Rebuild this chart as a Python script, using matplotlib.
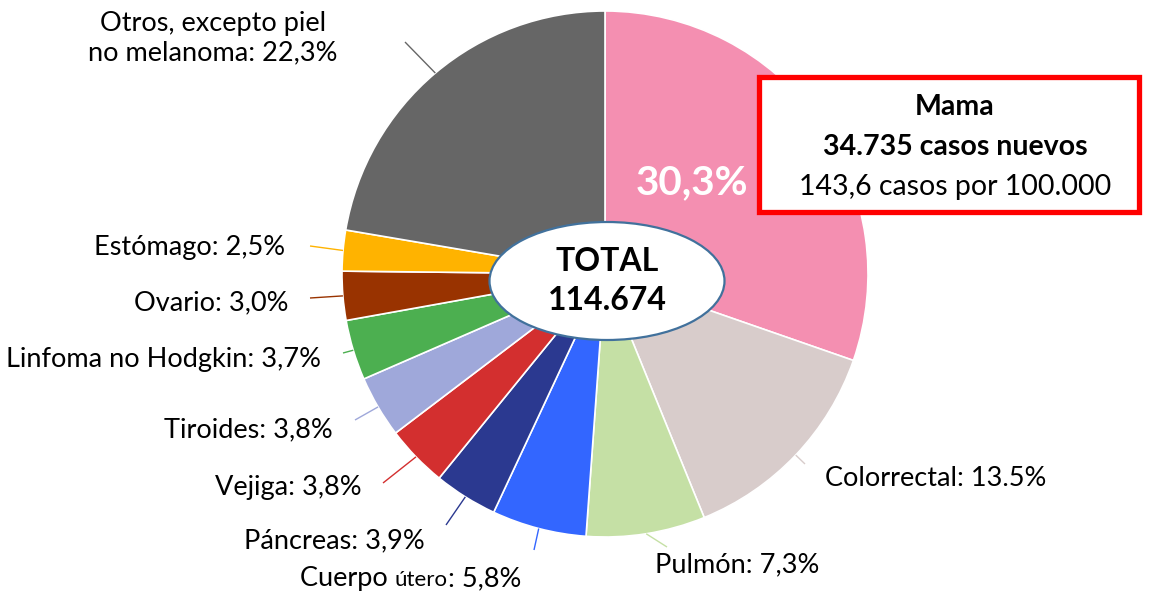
import matplotlib
matplotlib.use("Agg")
import numpy as np
import matplotlib.pyplot as plt
from matplotlib.patches import Ellipse, Rectangle

plt.rcParams['font.family'] = ['Lato', 'DejaVu Sans']

# data (clockwise from 12 o'clock)
sites = ['Mama', 'Colorrectal', 'Pulmón', 'Cuerpo útero', 'Páncreas', 'Vejiga',
         'Tiroides', 'Linfoma no Hodgkin', 'Ovario', 'Estómago',
         'Otros, excepto piel\nno melanoma']
pct = [30.3, 13.5, 7.3, 5.8, 3.9, 3.8, 3.8, 3.7, 3.0, 2.5, 22.3]
pct_txt = ['30,3%', '13.5%', '7,3%', '5,8%', '3,9%', '3,8%', '3,8%', '3,7%',
           '3,0%', '2,5%', '22,3%']
colors = ['#F48FB1', '#D8CCCB', '#C5E0A5', '#3366FF', '#2B3990', '#D32F2F',
          '#9FA8DA', '#4CAF50', '#993300', '#FFB300', '#666666']
total_txt = 'TOTAL\n114.674'
mama_lines = ['Mama', '34.735 casos nuevos', '143,6 casos por 100.000']

W, H = 1150, 594
def Y(py):
    return H - py

fig = plt.figure(figsize=(W / 100, H / 100), dpi=100)
ax = fig.add_axes([0, 0, 1, 1])

cx, cy, R = 605, Y(274), 263
ax.pie(pct, colors=colors, startangle=90, counterclock=False,
       center=(cx, cy), radius=R,
       wedgeprops=dict(edgecolor='white', linewidth=1.2))
ax.set_xlim(0, W)
ax.set_ylim(0, H)
ax.set_aspect('equal')
ax.axis('off')

FS = 19.5

# label placement (pixel coords), leader end points
lab = {
    1: (825, 478, 'left'),
    2: (655, 565, 'left'),
    4: (425, 541, 'right'),
    5: (362, 487, 'right'),
    6: (333, 430, 'right'),
    7: (321, 360, 'right'),
    8: (288, 303, 'right'),
    9: (285, 248, 'right'),
    10: (213, 38, 'center'),
}
lead = {1: (805, 464), 2: (667, 547), 3: (534, 550), 4: (446, 525),
        5: (383, 483), 6: (355, 420), 7: (343, 353), 8: (310, 298),
        9: (310, 246), 10: (405, 42)}

tot = sum(pct)
cum = np.cumsum([0] + pct[:-1])
for i in range(1, len(pct)):
    mid = np.deg2rad(90 - 360 * (cum[i] + pct[i] / 2) / tot)
    x0, y0 = cx + R * np.cos(mid), cy + R * np.sin(mid)
    ex, ey = lead[i]
    ax.plot([x0, ex], [y0, Y(ey)], color=colors[i], lw=1.0, solid_capstyle='butt')
    if i in lab:
        lx, ly, ha = lab[i]
        ax.text(lx, Y(ly), f'{sites[i]}: {pct_txt[i]}', ha=ha, va='center',
                fontsize=FS, color='black', linespacing=1.2)

# Cuerpo útero label with smaller "útero"
r = fig.canvas.get_renderer()
t1 = ax.text(300, Y(586), 'Cuerpo ', ha='left', va='baseline', fontsize=FS)
bb = t1.get_window_extent(r)
t2 = ax.text(bb.x1, Y(586), 'útero', ha='left', va='baseline', fontsize=16)
bb2 = t2.get_window_extent(r)
ax.text(bb2.x1, Y(586), ': ' + pct_txt[3], ha='left', va='baseline', fontsize=FS)

# big percentage on Mama wedge
ax.text(692, Y(183), pct_txt[0], ha='center', va='center', fontsize=29,
        fontweight='bold', color='white')

# centre ellipse
ax.add_patch(Ellipse((607, Y(281)), 235, 118, facecolor='white',
                     edgecolor='#41719C', lw=1.6, zorder=5))
ax.text(607, Y(281), total_txt, ha='center', va='center', fontsize=23,
        fontweight='bold', linespacing=1.4, zorder=6)

# Mama box
ax.add_patch(Rectangle((759, Y(212)), 380, 135, facecolor='white',
                       edgecolor='#FF0000', lw=3.8, zorder=5))
ax.text(955, Y(107), mama_lines[0], ha='center', va='center', fontsize=20.5,
        fontweight='bold', zorder=6)
ax.text(955, Y(147), mama_lines[1], ha='center', va='center', fontsize=20.5,
        fontweight='bold', zorder=6)
ax.text(955, Y(187), mama_lines[2], ha='center', va='center', fontsize=20.5,
        zorder=6)

fig.savefig('out.png', dpi=100)
